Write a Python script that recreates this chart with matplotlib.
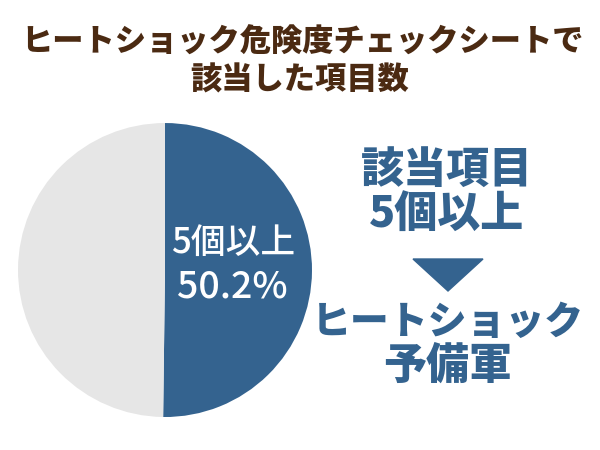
import matplotlib.pyplot as plt

plt.rcParams['font.family'] = ['Noto Sans CJK JP', 'DejaVu Sans']

labels = ['5個以上', 'その他']
shares = [50.2, 49.8]
colors = ['#34638f', '#e6e6e6']

title_lines = ['ヒートショック危険度チェックシートで', '該当した項目数']
side_top = ['該当項目', '5個以上']
side_bottom = ['ヒートショック', '予備軍']

brown = '#4b2a12'
blue = '#34638f'

fig = plt.figure(figsize=(6, 4.5), dpi=100)
fig.patch.set_facecolor('white')

# pie
ax = fig.add_axes([0.03, 0.0733, 0.49, 0.6533])
ax.pie(shares, colors=colors, startangle=90, counterclock=False,
       wedgeprops=dict(linewidth=0))
ax.set_xlim(-1, 1)
ax.set_ylim(-1, 1)
ax.set_aspect('equal')
ax.text(0.46, 0.185, labels[0], ha='center', va='center',
        color='white', fontsize=25, fontweight='medium')
ax.text(0.46, -0.115, '%.1f%%' % shares[0], ha='center', va='center',
        color='white', fontsize=27, fontweight='medium')

# title
fig.text(0.505, 1 - 42/450, title_lines[0], ha='center', va='center',
         color=brown, fontsize=22.5, fontweight='black')
fig.text(0.5, 1 - 80/450, title_lines[1], ha='center', va='center',
         color=brown, fontsize=22.5, fontweight='black')

# right side message
fig.text(447/600, 1 - 170/450, side_top[0], ha='center', va='center',
         color=blue, fontsize=31, fontweight='black')
fig.text(447/600, 1 - 215/450, side_top[1], ha='center', va='center',
         color=blue, fontsize=31, fontweight='black')
tri = plt.Polygon([[413/600, 1 - 259/450], [483/600, 1 - 259/450],
                   [448/600, 1 - 291/450]], closed=True, color=blue,
                  transform=fig.transFigure)
fig.patches.append(tri)
fig.text(448/600, 1 - 322/450, side_bottom[0], ha='center', va='center',
         color=blue, fontsize=28, fontweight='black')
fig.text(448/600, 1 - 366/450, side_bottom[1], ha='center', va='center',
         color=blue, fontsize=31, fontweight='black')

fig.savefig('out.png', dpi=100)
